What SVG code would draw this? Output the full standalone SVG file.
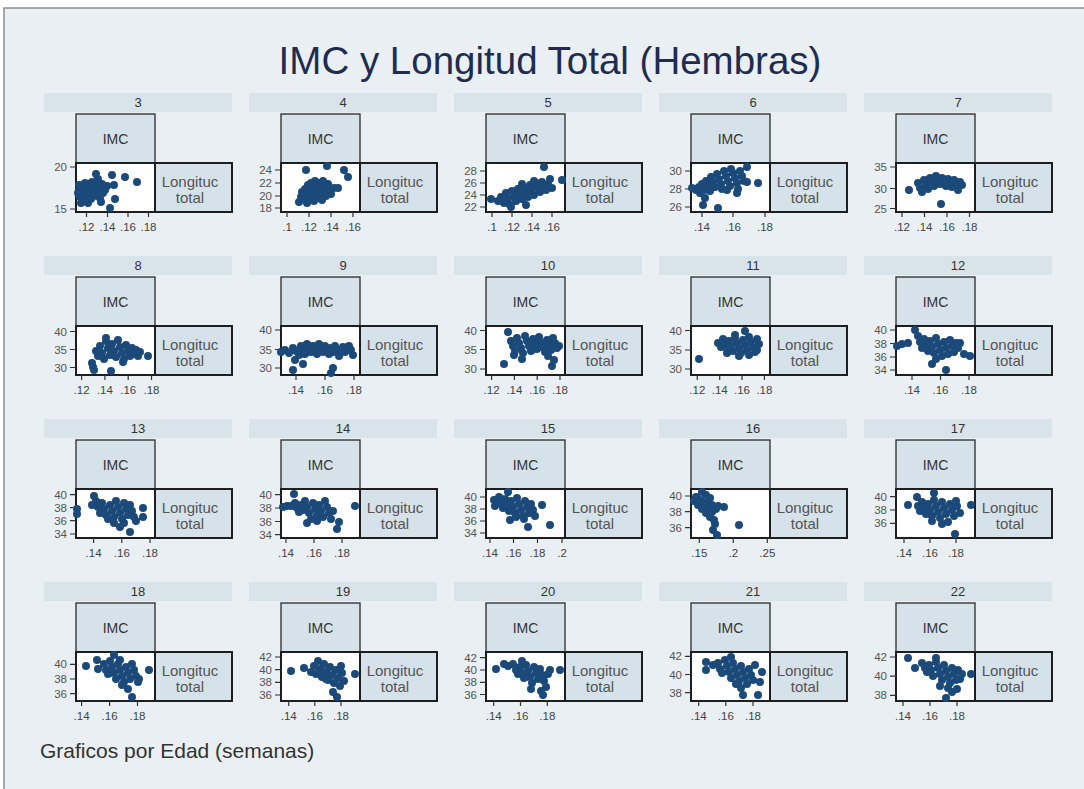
<svg xmlns="http://www.w3.org/2000/svg" width="1084" height="789" viewBox="0 0 1084 789">
<style>
text{font-family:"Liberation Sans",Arial,sans-serif}
.strip{fill:#d9e3ea}
.cell{fill:#d6e2ea;stroke:#2a2a2a;stroke-width:1.3}
.plot{fill:#ffffff;stroke:#1e1e1e;stroke-width:2}
.cell2{fill:#d6e2ea;stroke:#1e1e1e;stroke-width:2}
.hd{font-size:13px;fill:#333;text-anchor:middle}
.imc{font-size:14px;fill:#333;text-anchor:middle}
.lt{font-size:15px;fill:#555;text-anchor:middle}
.tk{stroke:#333;stroke-width:1.2;fill:none}
.yl{font-size:11.5px;fill:#555;text-anchor:end}
.xl{font-size:11.5px;fill:#444;text-anchor:middle}
.pts{fill:none;stroke:#1b4a7a;stroke-width:8;stroke-linecap:round}
</style>
<rect x="0" y="0" width="1084" height="789" fill="#ffffff"/>
<rect x="4" y="8" width="1100" height="800" fill="#e9eff3" stroke="#8c8c8c" stroke-width="1.5"/>
<text x="550" y="74" font-size="38.5" fill="#1f2c50" text-anchor="middle">IMC y Longitud Total (Hembras)</text>
<text x="40" y="758" font-size="21" fill="#333">Graficos por Edad (semanas)</text>

<g id="panel-3" transform="translate(76,163)">
<rect class="strip" x="-32" y="-70" width="188" height="19"/><text class="hd" x="62" y="-56">3</text>
<rect class="cell" x="0" y="-49" width="79" height="49"/><text class="imc" x="39.5" y="-19.5">IMC</text>
<rect class="plot" x="0" y="0" width="79" height="49"/><rect class="cell2" x="79" y="0" width="77" height="49"/>
<text class="lt" x="114" y="24">Longituc</text><text class="lt" x="114" y="39.5">total</text>
<path class="tk" d="M-6 4h6M-6 46h6M10.5 49v5M31.5 49v5M52 49v5M72.5 49v5"/>
<text class="yl" x="-9" y="8">20</text><text class="yl" x="-9" y="50">15</text>
<text class="xl" x="10.5" y="68">.12</text><text class="xl" x="31.5" y="68">.14</text><text class="xl" x="52" y="68">.16</text><text class="xl" x="72.5" y="68">.18</text>
<path class="pts" d="M2 30h0M3 22h0M3 28h0M4 34h0M5 40h0M6 25h0M7 31h0M8 37h0M9 20h0M10 28h0M11 34h0M12 40h0M13 24h0M14 30h0M15 36h0M16 19h0M17 27h0M18 33h0M19 22h0M20 11h0M21 29h0M22 16h0M23 25h0M24 35h0M25 39h0M26 21h0M27 30h0M29 27h0M31 23h0M36 12h0M38 22h0M39 36h0M34 45h0M49 14h0M61 19h0"/>
</g>

<g id="panel-4" transform="translate(281,163)">
<rect class="strip" x="-32" y="-70" width="188" height="19"/><text class="hd" x="62" y="-56">4</text>
<rect class="cell" x="0" y="-49" width="79" height="49"/><text class="imc" x="39.5" y="-19.5">IMC</text>
<rect class="plot" x="0" y="0" width="79" height="49"/><rect class="cell2" x="79" y="0" width="77" height="49"/>
<text class="lt" x="114" y="24">Longituc</text><text class="lt" x="114" y="39.5">total</text>
<path class="tk" d="M-6 7h6M-6 20h6M-6 33h6M-6 45h6M6 49v5M28 49v5M50 49v5M72 49v5"/>
<text class="yl" x="-9" y="11">24</text><text class="yl" x="-9" y="24">22</text><text class="yl" x="-9" y="37">20</text><text class="yl" x="-9" y="49">18</text>
<text class="xl" x="6" y="68">.1</text><text class="xl" x="28" y="68">.12</text><text class="xl" x="50" y="68">.14</text><text class="xl" x="72" y="68">.16</text>
<path class="pts" d="M18 39h0M20 34h0M21 29h0M23 36h0M24 26h0M25 31h0M26 40h0M27 22h0M28 28h0M29 34h0M30 20h0M31 25h0M32 31h0M33 38h0M34 18h0M35 24h0M36 29h0M37 35h0M38 20h0M39 26h0M40 31h0M41 37h0M42 18h0M43 23h0M44 28h0M45 33h0M47 21h0M48 27h0M50 31h0M53 25h0M57 25h0M25 7h0M46 3h0M63 7h0M67 14h0"/>
</g>

<g id="panel-5" transform="translate(486,163)">
<rect class="strip" x="-32" y="-70" width="188" height="19"/><text class="hd" x="62" y="-56">5</text>
<rect class="cell" x="0" y="-49" width="79" height="49"/><text class="imc" x="39.5" y="-19.5">IMC</text>
<rect class="plot" x="0" y="0" width="79" height="49"/><rect class="cell2" x="79" y="0" width="77" height="49"/>
<text class="lt" x="114" y="24">Longituc</text><text class="lt" x="114" y="39.5">total</text>
<path class="tk" d="M-6 8h6M-6 20h6M-6 32h6M-6 44h6M6 49v5M26 49v5M46 49v5M66 49v5"/>
<text class="yl" x="-9" y="12">28</text><text class="yl" x="-9" y="24">26</text><text class="yl" x="-9" y="36">24</text><text class="yl" x="-9" y="48">22</text>
<text class="xl" x="6" y="68">.1</text><text class="xl" x="26" y="68">.12</text><text class="xl" x="46" y="68">.14</text><text class="xl" x="66" y="68">.16</text>
<path class="pts" d="M5 36h0M12 38h0M15 34h0M18 40h0M20 30h0M22 36h0M24 42h0M26 28h0M28 33h0M30 38h0M32 26h0M34 31h0M36 36h0M38 25h0M40 29h0M42 34h0M44 22h0M46 27h0M48 32h0M50 20h0M52 24h0M54 29h0M56 19h0M58 23h0M60 27h0M62 21h0M64 16h0M66 25h0M58 4h0M76 17h0M25 44h0M40 42h0M36 21h0M48 18h0"/>
</g>

<g id="panel-6" transform="translate(691,163)">
<rect class="strip" x="-32" y="-70" width="188" height="19"/><text class="hd" x="62" y="-56">6</text>
<rect class="cell" x="0" y="-49" width="79" height="49"/><text class="imc" x="39.5" y="-19.5">IMC</text>
<rect class="plot" x="0" y="0" width="79" height="49"/><rect class="cell2" x="79" y="0" width="77" height="49"/>
<text class="lt" x="114" y="24">Longituc</text><text class="lt" x="114" y="39.5">total</text>
<path class="tk" d="M-6 8h6M-6 26h6M-6 44h6M11 49v5M42 49v5M74 49v5"/>
<text class="yl" x="-9" y="12">30</text><text class="yl" x="-9" y="30">28</text><text class="yl" x="-9" y="48">26</text>
<text class="xl" x="11" y="68">.14</text><text class="xl" x="42" y="68">.16</text><text class="xl" x="74" y="68">.18</text>
<path class="pts" d="M1 25h0M5 27h0M8 24h0M11 21h0M13 27h0M15 18h0M17 23h0M19 28h0M20 14h0M22 19h0M24 24h0M26 11h0M28 16h0M30 21h0M31 26h0M33 8h0M35 13h0M37 18h0M39 23h0M40 6h0M42 10h0M44 15h0M46 20h0M47 26h0M49 8h0M51 13h0M53 18h0M56 4h0M56 19h0M67 20h0M14 35h0M12 42h0M27 45h0M46 30h0M36 27h0M9 30h0"/>
</g>

<g id="panel-7" transform="translate(896,163)">
<rect class="strip" x="-32" y="-70" width="188" height="19"/><text class="hd" x="62" y="-56">7</text>
<rect class="cell" x="0" y="-49" width="79" height="49"/><text class="imc" x="39.5" y="-19.5">IMC</text>
<rect class="plot" x="0" y="0" width="79" height="49"/><rect class="cell2" x="79" y="0" width="77" height="49"/>
<text class="lt" x="114" y="24">Longituc</text><text class="lt" x="114" y="39.5">total</text>
<path class="tk" d="M-6 4h6M-6 25.5h6M-6 45.5h6M6 49v5M28.5 49v5M51 49v5M73.5 49v5"/>
<text class="yl" x="-9" y="8">35</text><text class="yl" x="-9" y="29.5">30</text><text class="yl" x="-9" y="49.5">25</text>
<text class="xl" x="6" y="68">.12</text><text class="xl" x="28.5" y="68">.14</text><text class="xl" x="51" y="68">.16</text><text class="xl" x="73.5" y="68">.18</text>
<path class="pts" d="M13 27h0M22 20h0M24 25h0M26 29h0M28 17h0M30 22h0M32 26h0M34 15h0M36 19h0M38 23h0M40 13h0M42 17h0M44 21h0M46 15h0M48 19h0M50 23h0M52 16h0M54 20h0M56 24h0M58 17h0M60 21h0M62 25h0M64 19h0M66 22h0M26 27h0M45 41h0M62 27h0"/>
</g>

<g id="panel-8" transform="translate(76,326)">
<rect class="strip" x="-32" y="-70" width="188" height="19"/><text class="hd" x="62" y="-56">8</text>
<rect class="cell" x="0" y="-49" width="79" height="49"/><text class="imc" x="39.5" y="-19.5">IMC</text>
<rect class="plot" x="0" y="0" width="79" height="49"/><rect class="cell2" x="79" y="0" width="77" height="49"/>
<text class="lt" x="114" y="24">Longituc</text><text class="lt" x="114" y="39.5">total</text>
<path class="tk" d="M-6 5.5h6M-6 23.5h6M-6 41.5h6M5.6 49v5M28.9 49v5M52.2 49v5M75.5 49v5"/>
<text class="yl" x="-9" y="9.5">40</text><text class="yl" x="-9" y="27.5">35</text><text class="yl" x="-9" y="45.5">30</text>
<text class="xl" x="5.6" y="68">.12</text><text class="xl" x="28.9" y="68">.14</text><text class="xl" x="52.2" y="68">.16</text><text class="xl" x="75.5" y="68">.18</text>
<path class="pts" d="M16 37h0M17 41h0M18 44h0M35 45h0M20 25h0M22 30h0M24 20h0M26 27h0M28 33h0M30 15h0M32 22h0M34 29h0M36 18h0M38 25h0M40 31h0M42 14h0M44 21h0M46 27h0M48 33h0M50 19h0M52 25h0M54 30h0M56 22h0M58 28h0M60 24h0M62 30h0M64 26h0M72 30h0M30 12h0M47 36h0"/>
</g>

<g id="panel-9" transform="translate(281,326)">
<rect class="strip" x="-32" y="-70" width="188" height="19"/><text class="hd" x="62" y="-56">9</text>
<rect class="cell" x="0" y="-49" width="79" height="49"/><text class="imc" x="39.5" y="-19.5">IMC</text>
<rect class="plot" x="0" y="0" width="79" height="49"/><rect class="cell2" x="79" y="0" width="77" height="49"/>
<text class="lt" x="114" y="24">Longituc</text><text class="lt" x="114" y="39.5">total</text>
<path class="tk" d="M-6 4h6M-6 23.5h6M-6 42h6M15 49v5M44 49v5M73 49v5"/>
<text class="yl" x="-9" y="8">40</text><text class="yl" x="-9" y="27.5">35</text><text class="yl" x="-9" y="46">30</text>
<text class="xl" x="15" y="68">.14</text><text class="xl" x="44" y="68">.16</text><text class="xl" x="73" y="68">.18</text>
<path class="pts" d="M0 26h0M4 24h0M8 27h0M12 22h0M15 25h0M18 29h0M20 20h0M22 24h0M24 28h0M26 18h0M28 22h0M30 26h0M32 20h0M34 24h0M36 28h0M38 18h0M40 22h0M42 26h0M44 20h0M46 24h0M48 28h0M50 22h0M52 26h0M54 20h0M56 24h0M58 30h0M60 25h0M62 21h0M64 26h0M70 24h0M72 29h0M68 20h0M14 34h0M12 44h0M52 42h0M50 47h0M22 38h0"/>
</g>

<g id="panel-10" transform="translate(486,326)">
<rect class="strip" x="-32" y="-70" width="188" height="19"/><text class="hd" x="62" y="-56">10</text>
<rect class="cell" x="0" y="-49" width="79" height="49"/><text class="imc" x="39.5" y="-19.5">IMC</text>
<rect class="plot" x="0" y="0" width="79" height="49"/><rect class="cell2" x="79" y="0" width="77" height="49"/>
<text class="lt" x="114" y="24">Longituc</text><text class="lt" x="114" y="39.5">total</text>
<path class="tk" d="M-6 4.5h6M-6 23.5h6M-6 43h6M5.6 49v5M28.4 49v5M51.2 49v5M74 49v5"/>
<text class="yl" x="-9" y="8.5">40</text><text class="yl" x="-9" y="27.5">35</text><text class="yl" x="-9" y="47">30</text>
<text class="xl" x="5.6" y="68">.12</text><text class="xl" x="28.4" y="68">.14</text><text class="xl" x="51.2" y="68">.16</text><text class="xl" x="74" y="68">.18</text>
<path class="pts" d="M22 6h0M25 15h0M27 20h0M29 25h0M31 12h0M33 17h0M35 22h0M37 27h0M39 10h0M41 15h0M43 20h0M45 25h0M47 13h0M49 18h0M51 23h0M53 11h0M55 16h0M57 21h0M59 26h0M61 14h0M63 19h0M65 24h0M67 12h0M69 17h0M71 22h0M73 20h0M18 38h0M36 33h0M62 30h0M66 40h0M68 34h0M28 29h0"/>
</g>

<g id="panel-11" transform="translate(691,326)">
<rect class="strip" x="-32" y="-70" width="188" height="19"/><text class="hd" x="62" y="-56">11</text>
<rect class="cell" x="0" y="-49" width="79" height="49"/><text class="imc" x="39.5" y="-19.5">IMC</text>
<rect class="plot" x="0" y="0" width="79" height="49"/><rect class="cell2" x="79" y="0" width="77" height="49"/>
<text class="lt" x="114" y="24">Longituc</text><text class="lt" x="114" y="39.5">total</text>
<path class="tk" d="M-6 4.5h6M-6 24h6M-6 43h6M6.3 49v5M28.7 49v5M51 49v5M73.4 49v5"/>
<text class="yl" x="-9" y="8.5">40</text><text class="yl" x="-9" y="28">35</text><text class="yl" x="-9" y="47">30</text>
<text class="xl" x="6.3" y="68">.12</text><text class="xl" x="28.7" y="68">.14</text><text class="xl" x="51" y="68">.16</text><text class="xl" x="73.4" y="68">.18</text>
<path class="pts" d="M8 33h0M27 17h0M30 21h0M32 13h0M34 18h0M36 23h0M38 15h0M40 20h0M42 25h0M44 12h0M46 17h0M48 22h0M50 27h0M52 14h0M54 5h0M54 19h0M56 24h0M58 11h0M60 16h0M62 21h0M64 26h0M66 13h0M68 18h0M48 30h0M58 29h0M66 24h0M36 27h0M44 9h0"/>
</g>

<g id="panel-12" transform="translate(896,326)">
<rect class="strip" x="-32" y="-70" width="188" height="19"/><text class="hd" x="62" y="-56">12</text>
<rect class="cell" x="0" y="-49" width="79" height="49"/><text class="imc" x="39.5" y="-19.5">IMC</text>
<rect class="plot" x="0" y="0" width="79" height="49"/><rect class="cell2" x="79" y="0" width="77" height="49"/>
<text class="lt" x="114" y="24">Longituc</text><text class="lt" x="114" y="39.5">total</text>
<path class="tk" d="M-6 4h6M-6 17.5h6M-6 31h6M-6 44h6M16 49v5M44.5 49v5M73 49v5"/>
<text class="yl" x="-9" y="8">40</text><text class="yl" x="-9" y="21.5">38</text><text class="yl" x="-9" y="35">36</text><text class="yl" x="-9" y="48">34</text>
<text class="xl" x="16" y="68">.14</text><text class="xl" x="44.5" y="68">.16</text><text class="xl" x="73" y="68">.18</text>
<path class="pts" d="M1 20h0M6 18h0M12 17h0M19 4h0M22 10h0M24 16h0M26 22h0M28 13h0M30 19h0M32 25h0M34 15h0M36 21h0M38 27h0M40 12h0M40 33h0M42 18h0M44 24h0M46 30h0M48 16h0M50 22h0M52 28h0M54 14h0M56 20h0M58 26h0M60 17h0M62 22h0M68 28h0M74 30h0M50 44h0M36 38h0M64 17h0"/>
</g>

<g id="panel-13" transform="translate(76,489)">
<rect class="strip" x="-32" y="-70" width="188" height="19"/><text class="hd" x="62" y="-56">13</text>
<rect class="cell" x="0" y="-49" width="79" height="49"/><text class="imc" x="39.5" y="-19.5">IMC</text>
<rect class="plot" x="0" y="0" width="79" height="49"/><rect class="cell2" x="79" y="0" width="77" height="49"/>
<text class="lt" x="114" y="24">Longituc</text><text class="lt" x="114" y="39.5">total</text>
<path class="tk" d="M-6 5.7h6M-6 18.7h6M-6 31.7h6M-6 45h6M17.6 49v5M45.8 49v5M74 49v5"/>
<text class="yl" x="-9" y="9.7">40</text><text class="yl" x="-9" y="22.7">38</text><text class="yl" x="-9" y="35.7">36</text><text class="yl" x="-9" y="49">34</text>
<text class="xl" x="17.6" y="68">.14</text><text class="xl" x="45.8" y="68">.16</text><text class="xl" x="74" y="68">.18</text>
<path class="pts" d="M1 20h0M1 25h0M18 7h0M16 16h0M20 12h0M22 18h0M24 24h0M26 14h0M28 20h0M30 26h0M32 30h0M34 16h0M36 22h0M38 28h0M40 12h0M42 18h0M44 24h0M46 30h0M48 14h0M50 20h0M52 26h0M54 16h0M56 22h0M58 28h0M60 32h0M44 38h0M54 43h0M67 19h0M67 28h0M48 34h0M38 34h0"/>
</g>

<g id="panel-14" transform="translate(281,489)">
<rect class="strip" x="-32" y="-70" width="188" height="19"/><text class="hd" x="62" y="-56">14</text>
<rect class="cell" x="0" y="-49" width="79" height="49"/><text class="imc" x="39.5" y="-19.5">IMC</text>
<rect class="plot" x="0" y="0" width="79" height="49"/><rect class="cell2" x="79" y="0" width="77" height="49"/>
<text class="lt" x="114" y="24">Longituc</text><text class="lt" x="114" y="39.5">total</text>
<path class="tk" d="M-6 5.7h6M-6 19h6M-6 32.5h6M-6 45.7h6M5 49v5M33 49v5M61 49v5"/>
<text class="yl" x="-9" y="9.7">40</text><text class="yl" x="-9" y="23">38</text><text class="yl" x="-9" y="36.5">36</text><text class="yl" x="-9" y="49.7">34</text>
<text class="xl" x="5" y="68">.14</text><text class="xl" x="33" y="68">.16</text><text class="xl" x="61" y="68">.18</text>
<path class="pts" d="M2 18h0M6 17h0M10 17h0M13 5h0M14 14h0M16 19h0M18 23h0M20 16h0M22 21h0M24 12h0M26 18h0M28 24h0M30 30h0M26 34h0M32 14h0M34 20h0M36 26h0M38 16h0M40 22h0M42 28h0M44 12h0M46 18h0M48 24h0M50 30h0M52 22h0M56 40h0M58 33h0M74 17h0M36 32h0"/>
</g>

<g id="panel-15" transform="translate(486,489)">
<rect class="strip" x="-32" y="-70" width="188" height="19"/><text class="hd" x="62" y="-56">15</text>
<rect class="cell" x="0" y="-49" width="79" height="49"/><text class="imc" x="39.5" y="-19.5">IMC</text>
<rect class="plot" x="0" y="0" width="79" height="49"/><rect class="cell2" x="79" y="0" width="77" height="49"/>
<text class="lt" x="114" y="24">Longituc</text><text class="lt" x="114" y="39.5">total</text>
<path class="tk" d="M-6 8h6M-6 20h6M-6 32h6M-6 44h6M4 49v5M27.5 49v5M51.5 49v5M76 49v5"/>
<text class="yl" x="-9" y="12">40</text><text class="yl" x="-9" y="24">38</text><text class="yl" x="-9" y="36">36</text><text class="yl" x="-9" y="48">34</text>
<text class="xl" x="4" y="68">.14</text><text class="xl" x="27.5" y="68">.16</text><text class="xl" x="51.5" y="68">.18</text><text class="xl" x="76" y="68">.2</text>
<path class="pts" d="M8 11h0M9 17h0M13 8h0M15 14h0M17 19h0M19 10h0M21 16h0M22 3h0M23 22h0M25 12h0M27 18h0M29 24h0M31 9h0M33 15h0M35 21h0M37 27h0M39 12h0M41 18h0M43 24h0M45 15h0M47 21h0M49 27h0M24 31h0M42 38h0M56 16h0M64 36h0M30 28h0M38 30h0"/>
</g>

<g id="panel-16" transform="translate(691,489)">
<rect class="strip" x="-32" y="-70" width="188" height="19"/><text class="hd" x="62" y="-56">16</text>
<rect class="cell" x="0" y="-49" width="79" height="49"/><text class="imc" x="39.5" y="-19.5">IMC</text>
<rect class="plot" x="0" y="0" width="79" height="49"/><rect class="cell2" x="79" y="0" width="77" height="49"/>
<text class="lt" x="114" y="24">Longituc</text><text class="lt" x="114" y="39.5">total</text>
<path class="tk" d="M-6 7h6M-6 22.7h6M-6 38.7h6M8.3 49v5M42.3 49v5M76.3 49v5"/>
<text class="yl" x="-9" y="11">40</text><text class="yl" x="-9" y="26.7">38</text><text class="yl" x="-9" y="42.7">36</text>
<text class="xl" x="8.3" y="68">.15</text><text class="xl" x="42.3" y="68">.2</text><text class="xl" x="76.3" y="68">.25</text>
<path class="pts" d="M3 12h0M5 8h0M7 16h0M9 11h0M11 3h0M11 20h0M13 14h0M15 24h0M17 12h0M17 19h0M19 28h0M21 16h0M21 23h0M23 31h0M25 20h0M24 35h0M27 17h0M33 18h0M22 41h0M26 46h0M48 36h0M15 6h0M19 9h0"/>
</g>

<g id="panel-17" transform="translate(896,489)">
<rect class="strip" x="-32" y="-70" width="188" height="19"/><text class="hd" x="62" y="-56">17</text>
<rect class="cell" x="0" y="-49" width="79" height="49"/><text class="imc" x="39.5" y="-19.5">IMC</text>
<rect class="plot" x="0" y="0" width="79" height="49"/><rect class="cell2" x="79" y="0" width="77" height="49"/>
<text class="lt" x="114" y="24">Longituc</text><text class="lt" x="114" y="39.5">total</text>
<path class="tk" d="M-6 7.7h6M-6 21h6M-6 34.3h6M8 49v5M34 49v5M60 49v5"/>
<text class="yl" x="-9" y="11.7">40</text><text class="yl" x="-9" y="25">38</text><text class="yl" x="-9" y="38.3">36</text>
<text class="xl" x="8" y="68">.14</text><text class="xl" x="34" y="68">.16</text><text class="xl" x="60" y="68">.18</text>
<path class="pts" d="M12 16h0M21 8h0M22 17h0M24 22h0M26 13h0M28 19h0M30 25h0M32 15h0M34 21h0M36 27h0M38 4h0M38 11h0M40 17h0M42 23h0M44 29h0M46 13h0M48 19h0M50 25h0M52 33h0M54 15h0M56 21h0M58 27h0M60 12h0M61 17h0M64 24h0M75 16h0M59 45h0M46 35h0M36 32h0"/>
</g>

<g id="panel-18" transform="translate(76,652)">
<rect class="strip" x="-32" y="-70" width="188" height="19"/><text class="hd" x="62" y="-56">18</text>
<rect class="cell" x="0" y="-49" width="79" height="49"/><text class="imc" x="39.5" y="-19.5">IMC</text>
<rect class="plot" x="0" y="0" width="79" height="49"/><rect class="cell2" x="79" y="0" width="77" height="49"/>
<text class="lt" x="114" y="24">Longituc</text><text class="lt" x="114" y="39.5">total</text>
<path class="tk" d="M-6 12.3h6M-6 27h6M-6 41.7h6M5.6 49v5M33.6 49v5M61.5 49v5"/>
<text class="yl" x="-9" y="16.3">40</text><text class="yl" x="-9" y="31">38</text><text class="yl" x="-9" y="45.7">36</text>
<text class="xl" x="5.6" y="68">.14</text><text class="xl" x="33.6" y="68">.16</text><text class="xl" x="61.5" y="68">.18</text>
<path class="pts" d="M10 14h0M21 8h0M22 17h0M28 12h0M30 18h0M32 22h0M34 9h0M36 15h0M38 3h0M38 21h0M40 27h0M42 12h0M44 18h0M46 24h0M48 30h0M50 15h0M52 21h0M52 37h0M54 27h0M56 45h0M56 12h0M58 18h0M60 24h0M62 30h0M63 27h0M73 18h0M46 33h0M44 8h0"/>
</g>

<g id="panel-19" transform="translate(281,652)">
<rect class="strip" x="-32" y="-70" width="188" height="19"/><text class="hd" x="62" y="-56">19</text>
<rect class="cell" x="0" y="-49" width="79" height="49"/><text class="imc" x="39.5" y="-19.5">IMC</text>
<rect class="plot" x="0" y="0" width="79" height="49"/><rect class="cell2" x="79" y="0" width="77" height="49"/>
<text class="lt" x="114" y="24">Longituc</text><text class="lt" x="114" y="39.5">total</text>
<path class="tk" d="M-6 5h6M-6 17.7h6M-6 30.3h6M-6 43h6M7.7 49v5M33.8 49v5M60 49v5"/>
<text class="yl" x="-9" y="9">42</text><text class="yl" x="-9" y="21.7">40</text><text class="yl" x="-9" y="34.3">38</text><text class="yl" x="-9" y="47">36</text>
<text class="xl" x="7.7" y="68">.14</text><text class="xl" x="33.8" y="68">.16</text><text class="xl" x="60" y="68">.18</text>
<path class="pts" d="M10 19h0M23 16h0M30 20h0M33 14h0M35 22h0M37 9h0M39 17h0M41 25h0M43 12h0M45 20h0M47 28h0M49 15h0M51 23h0M53 31h0M55 18h0M57 26h0M59 34h0M61 21h0M63 29h0M56 45h0M52 40h0M74 22h0M45 27h0M60 14h0M40 21h0"/>
</g>

<g id="panel-20" transform="translate(486,652)">
<rect class="strip" x="-32" y="-70" width="188" height="19"/><text class="hd" x="62" y="-56">20</text>
<rect class="cell" x="0" y="-49" width="79" height="49"/><text class="imc" x="39.5" y="-19.5">IMC</text>
<rect class="plot" x="0" y="0" width="79" height="49"/><rect class="cell2" x="79" y="0" width="77" height="49"/>
<text class="lt" x="114" y="24">Longituc</text><text class="lt" x="114" y="39.5">total</text>
<path class="tk" d="M-6 5.7h6M-6 18h6M-6 30.3h6M-6 42.5h6M7.7 49v5M34.5 49v5M61.3 49v5"/>
<text class="yl" x="-9" y="9.7">42</text><text class="yl" x="-9" y="22">40</text><text class="yl" x="-9" y="34.3">38</text><text class="yl" x="-9" y="46.5">36</text>
<text class="xl" x="7.7" y="68">.14</text><text class="xl" x="34.5" y="68">.16</text><text class="xl" x="61.3" y="68">.18</text>
<path class="pts" d="M10 17h0M18 12h0M22 14h0M27 12h0M30 18h0M32 22h0M34 15h0M36 9h0M36 21h0M38 26h0M40 13h0M42 19h0M44 25h0M46 31h0M48 15h0M50 21h0M52 27h0M54 17h0M56 23h0M58 29h0M60 35h0M62 22h0M64 18h0M57 43h0M45 37h0M74 18h0M55 39h0"/>
</g>

<g id="panel-21" transform="translate(691,652)">
<rect class="strip" x="-32" y="-70" width="188" height="19"/><text class="hd" x="62" y="-56">21</text>
<rect class="cell" x="0" y="-49" width="79" height="49"/><text class="imc" x="39.5" y="-19.5">IMC</text>
<rect class="plot" x="0" y="0" width="79" height="49"/><rect class="cell2" x="79" y="0" width="77" height="49"/>
<text class="lt" x="114" y="24">Longituc</text><text class="lt" x="114" y="39.5">total</text>
<path class="tk" d="M-6 4.3h6M-6 22.5h6M-6 40.7h6M7.7 49v5M34.8 49v5M62 49v5"/>
<text class="yl" x="-9" y="8.3">42</text><text class="yl" x="-9" y="26.5">40</text><text class="yl" x="-9" y="44.7">38</text>
<text class="xl" x="7.7" y="68">.14</text><text class="xl" x="34.8" y="68">.16</text><text class="xl" x="62" y="68">.18</text>
<path class="pts" d="M15 10h0M15 18h0M22 13h0M27 11h0M29 17h0M31 21h0M34 8h0M36 14h0M38 20h0M40 5h0M40 26h0M42 11h0M44 17h0M46 23h0M48 29h0M50 14h0M52 20h0M52 43h0M54 26h0M56 32h0M58 17h0M60 23h0M62 28h0M64 13h0M71 20h0M69 30h0M67 43h0M50 36h0M45 32h0"/>
</g>

<g id="panel-22" transform="translate(896,652)">
<rect class="strip" x="-32" y="-70" width="188" height="19"/><text class="hd" x="62" y="-56">22</text>
<rect class="cell" x="0" y="-49" width="79" height="49"/><text class="imc" x="39.5" y="-19.5">IMC</text>
<rect class="plot" x="0" y="0" width="79" height="49"/><rect class="cell2" x="79" y="0" width="77" height="49"/>
<text class="lt" x="114" y="24">Longituc</text><text class="lt" x="114" y="39.5">total</text>
<path class="tk" d="M-6 5h6M-6 24.2h6M-6 43.3h6M7 49v5M34 49v5M61 49v5"/>
<text class="yl" x="-9" y="9">42</text><text class="yl" x="-9" y="28.2">40</text><text class="yl" x="-9" y="47.3">38</text>
<text class="xl" x="7" y="68">.14</text><text class="xl" x="34" y="68">.16</text><text class="xl" x="61" y="68">.18</text>
<path class="pts" d="M12 6h0M19 16h0M26 11h0M29 16h0M31 20h0M33 13h0M35 18h0M37 24h0M40 6h0M40 10h0M42 16h0M44 22h0M46 28h0M48 13h0M50 19h0M52 25h0M54 31h0M56 40h0M50 46h0M56 16h0M58 22h0M60 28h0M61 37h0M62 18h0M64 27h0M66 22h0M75 22h0M44 34h0M52 36h0"/>
</g>
</svg>
